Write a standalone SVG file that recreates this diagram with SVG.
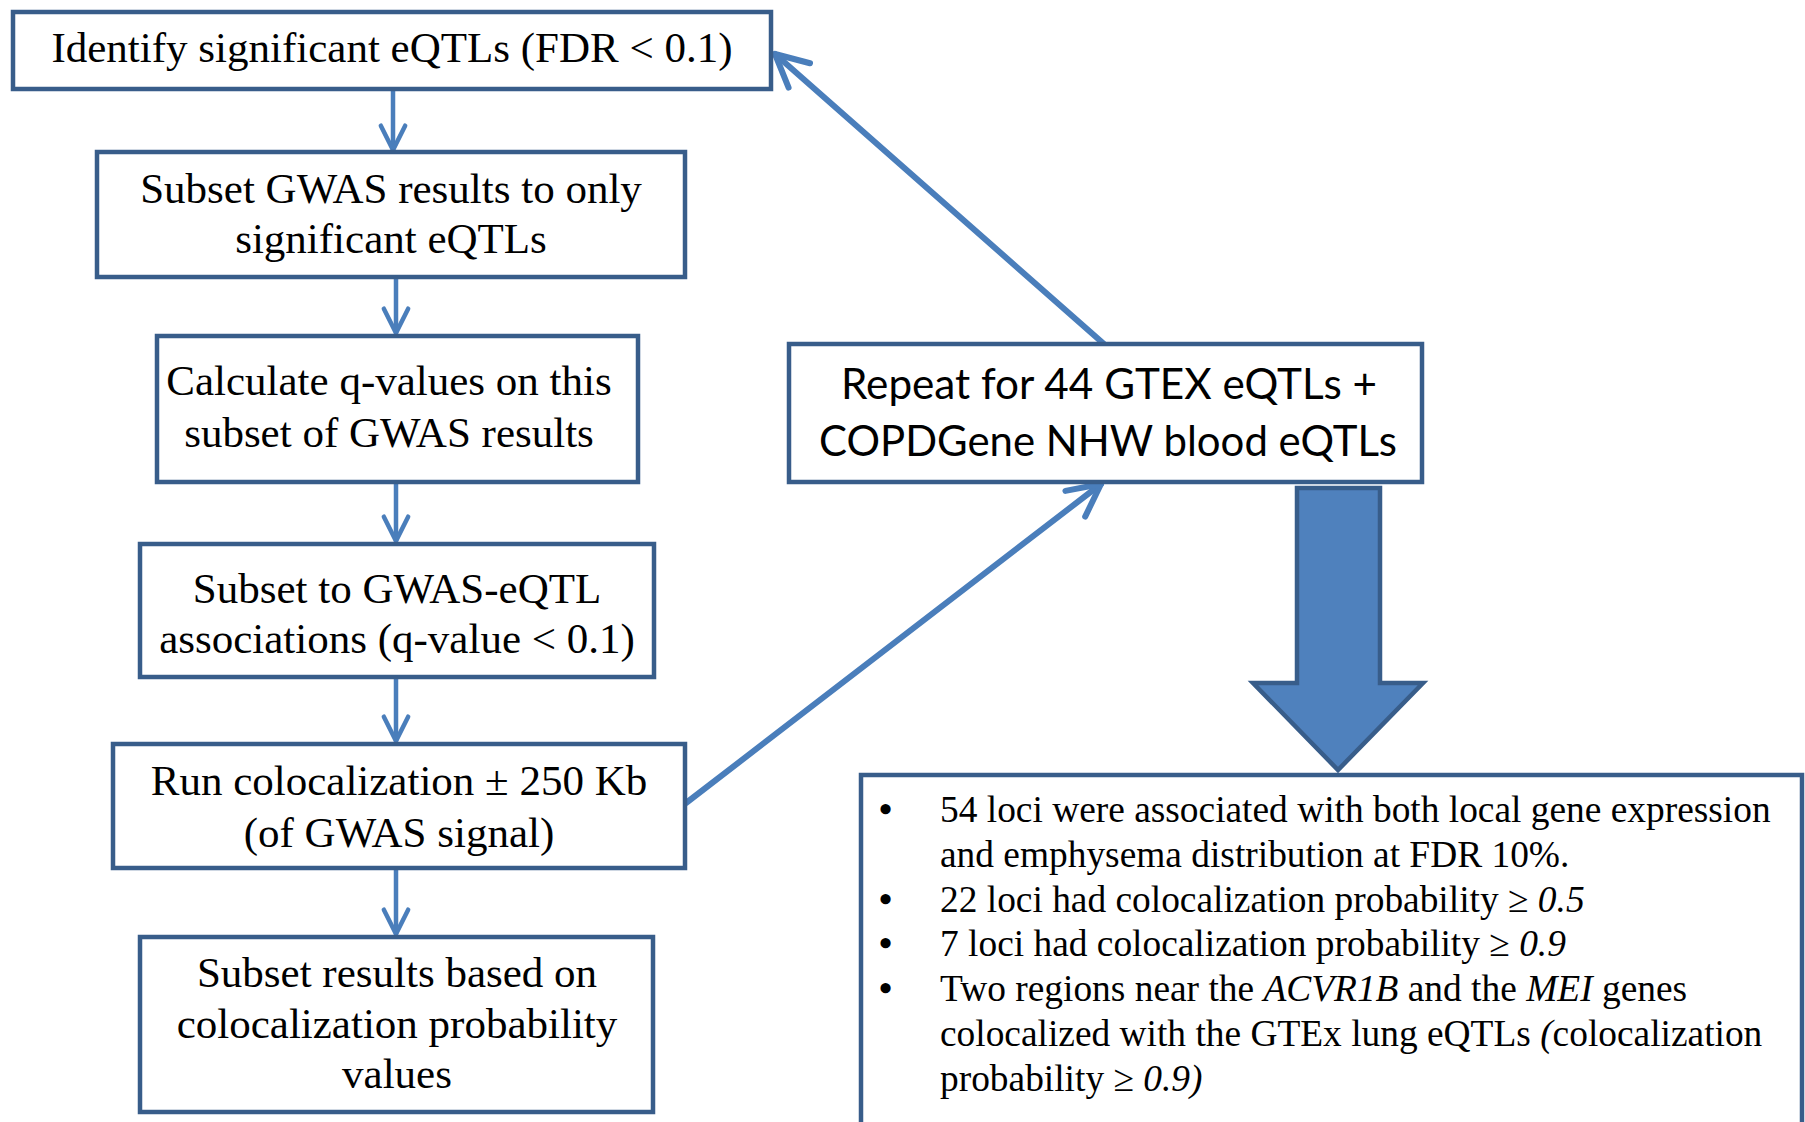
<svg xmlns="http://www.w3.org/2000/svg" width="1805" height="1122" viewBox="0 0 1805 1122">
<defs>
<style>
.box{fill:#ffffff;stroke:#385D8A;stroke-width:4.5}
.t{font-family:"Liberation Serif","Times New Roman",serif;font-size:43px;fill:#000;text-anchor:middle}
.s{font-family:Lato,"Open Sans",sans-serif;font-size:42px;fill:#000;text-anchor:middle}
.l{font-family:"Liberation Serif","Times New Roman",serif;font-size:37.4px;fill:#000}
.b{font-family:"Liberation Serif","Times New Roman",serif;font-size:37.4px;font-weight:bold;fill:#000}
.i{font-style:italic}
.c{fill:none;stroke:#4A7EBB;stroke-linecap:round}
</style>
<marker id="ah" viewBox="-7 -4 8 8" refX="0" refY="0" markerWidth="8" markerHeight="8" markerUnits="strokeWidth" orient="auto">
<path d="M-5.4,-2.7 L0,0 L-5.4,2.7" fill="none" stroke="#4A7EBB" stroke-width="1" stroke-linecap="round" stroke-linejoin="round"/>
</marker>
</defs>
<rect width="1805" height="1122" fill="#ffffff"/>
<g id="connectors">
<line class="c" x1="393" y1="90" x2="393" y2="150" stroke-width="4.5" marker-end="url(#ah)"/>
<line class="c" x1="396" y1="278" x2="396" y2="333" stroke-width="4.5" marker-end="url(#ah)"/>
<line class="c" x1="396" y1="483" x2="396" y2="541" stroke-width="4.5" marker-end="url(#ah)"/>
<line class="c" x1="396" y1="678" x2="396" y2="741" stroke-width="4.5" marker-end="url(#ah)"/>
<line class="c" x1="396" y1="869" x2="396" y2="934" stroke-width="4.5" marker-end="url(#ah)"/>
<line class="c" x1="1104" y1="344" x2="775" y2="54" stroke-width="6" marker-end="url(#ah)"/>
<line class="c" x1="686" y1="803" x2="1101" y2="484" stroke-width="6" marker-end="url(#ah)"/>
<polygon id="blockarrow" points="1297,488 1380,488 1380,683 1423,683 1338,770 1253,683 1297,683" fill="#4F81BD" stroke="#385D8A" stroke-width="4.5" stroke-linejoin="miter"/>
</g>
<g id="n1">
<rect class="box" x="13" y="12" width="758" height="77"/>
<text class="t" x="392" y="62">Identify significant eQTLs (FDR &lt; 0.1)</text>
</g>
<g id="n2">
<rect class="box" x="97" y="152" width="588" height="125"/>
<text class="t" x="391" y="203">Subset GWAS results to only</text>
<text class="t" x="391" y="253">significant eQTLs</text>
</g>
<g id="n3">
<rect class="box" x="157" y="336" width="481" height="146"/>
<text class="t" x="389" y="395">Calculate q-values on this</text>
<text class="t" x="389" y="447">subset of GWAS results</text>
</g>
<g id="n4">
<rect class="box" x="140" y="544" width="514" height="133"/>
<text class="t" x="397" y="603">Subset to GWAS-eQTL</text>
<text class="t" x="397" y="653">associations (q-value &lt; 0.1)</text>
</g>
<g id="n5">
<rect class="box" x="113" y="744" width="572" height="124"/>
<text class="t" x="399" y="795">Run colocalization ± 250 Kb</text>
<text class="t" x="399" y="847">(of GWAS signal)</text>
</g>
<g id="n6">
<rect class="box" x="140" y="937" width="513" height="175"/>
<text class="t" x="397" y="987">Subset results based on</text>
<text class="t" x="397" y="1038">colocalization probability</text>
<text class="t" x="397" y="1088">values</text>
</g>
<g id="n7">
<rect class="box" x="789" y="344" width="633" height="138"/>
<text class="s" x="1109" y="399" textLength="536" lengthAdjust="spacingAndGlyphs">Repeat for 44 GTEX eQTLs +</text>
<text class="s" x="1108" y="456" textLength="578" lengthAdjust="spacingAndGlyphs">COPDGene NHW blood eQTLs</text>
</g>
<g id="n8">
<rect class="box" x="861" y="775" width="941" height="400"/>
<text class="b" x="879" y="822">•</text>
<text class="l" x="940" y="822">54 loci were associated with both local gene expression</text>
<text class="l" x="940" y="867">and emphysema distribution at FDR 10%.</text>
<text class="b" x="879" y="912">•</text>
<text class="l" x="940" y="912">22 loci had colocalization probability ≥ <tspan class="i">0.5</tspan></text>
<text class="b" x="879" y="956">•</text>
<text class="l" x="940" y="956">7 loci had colocalization probability ≥ <tspan class="i">0.9</tspan></text>
<text class="b" x="879" y="1001">•</text>
<text class="l" x="940" y="1001">Two regions near the <tspan class="i">ACVR1B</tspan> and the <tspan class="i">MEI</tspan> genes</text>
<text class="l" x="940" y="1046">colocalized with the GTEx lung eQTLs <tspan class="i">(</tspan>colocalization</text>
<text class="l" x="940" y="1091">probability ≥ <tspan class="i">0.9)</tspan></text>
</g>
</svg>
